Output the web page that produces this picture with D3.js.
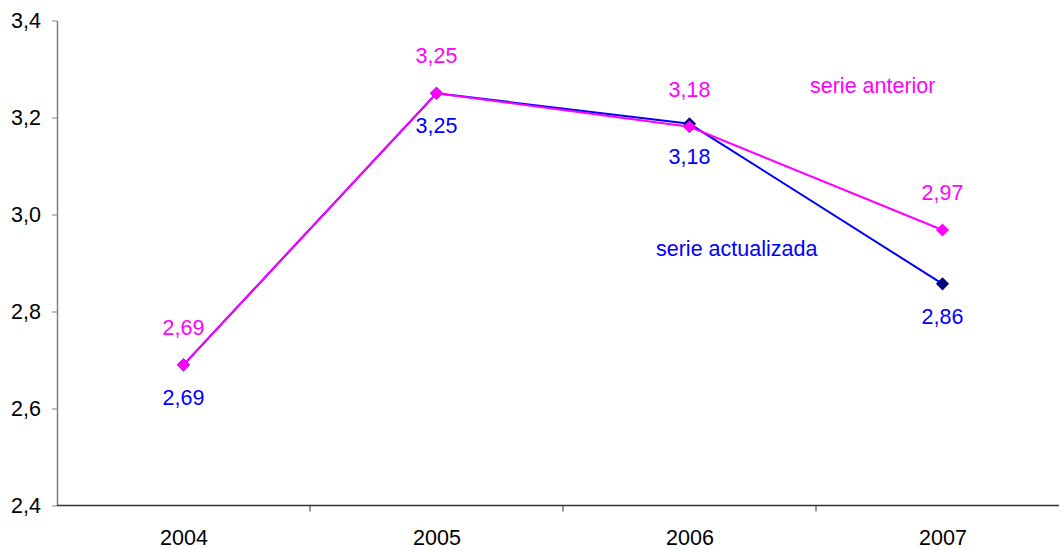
<!DOCTYPE html>
<html>
<head>
<meta charset="utf-8">
<script src="https://cdn.jsdelivr.net/npm/d3@7"></script>
<style>
  body { margin: 0; background: #fff; }
  text { font-family: "Liberation Sans", Arial, sans-serif; }
</style>
</head>
<body>
<script>
// datos
const years = ["2004", "2005", "2006", "2007"];
const serieActualizada = [2.69, 3.25, 3.187, 2.857];
const serieAnterior = [2.69, 3.25, 3.181, 2.968];
const etiquetasActualizada = ["2,69", "3,25", "3,18", "2,86"];
const etiquetasAnterior = ["2,69", "3,25", "3,18", "2,97"];
const yTicks = [2.4, 2.6, 2.8, 3.0, 3.2, 3.4];

const W = 1059, H = 549;
const mLeft = 57, mRight = 1069, mTop = 20.5, mBottom = 505.5;
const fs = 21.5;

var svg = d3.select("body")
        .append("svg")
        .attr("width", W)
        .attr("height", H)

const x = d3.scaleBand().domain(years).range([mLeft, mRight])
const y = d3.scaleLinear().domain([2.4, 3.4]).range([mBottom, mTop])
const cx = d => x(d) + x.bandwidth() / 2

const locale = d3.formatLocale({ decimal: ",", thousands: ".", grouping: [3], currency: ["", ""] })
const fmt = locale.format(".1f")

// eje Y
const yAxis = svg.append("g")
        .attr("transform", `translate(${mLeft},0)`)
        .call(d3.axisLeft(y).tickValues(yTicks).tickFormat(fmt).tickSize(5).tickSizeOuter(0).tickPadding(11))
yAxis.select(".domain").attr("stroke", "#808080").attr("stroke-width", 1.5)
yAxis.selectAll(".tick line").attr("stroke", "#808080")
yAxis.selectAll(".tick text").attr("font-size", fs).attr("fill", "#000")

// eje X
const xAxis = svg.append("g")
        .attr("transform", `translate(0,${mBottom})`)
xAxis.append("line")
        .attr("x1", mLeft).attr("x2", mRight)
        .attr("stroke", "#333").attr("stroke-width", 1.5)
xAxis.selectAll(".sep")
        .data(years.slice(1))
        .enter()
        .append("line")
                .attr("x1", d => x(d)).attr("x2", d => x(d))
                .attr("y1", 0).attr("y2", 6)
                .attr("stroke", "#333")
xAxis.selectAll(".lbl")
        .data(years)
        .enter()
        .append("text")
                .attr("x", d => cx(d) + 0.5)
                .attr("y", 39.5)
                .attr("text-anchor", "middle")
                .attr("font-size", fs)
                .text(d => d)

const line = d3.line().x((d, i) => cx(years[i])).y(d => y(d))
const diamond = d3.symbol().type(d3.symbolDiamond2).size(110)

function drawSeries(values, color, markerColor) {
        svg.append("path")
                .datum(values)
                .attr("d", line)
                .attr("fill", "none")
                .attr("stroke", color)
                .attr("stroke-width", 2)
        svg.selectAll(null)
                .data(values)
                .enter()
                .append("path")
                        .attr("d", diamond)
                        .attr("transform", (d, i) => `translate(${cx(years[i])},${y(d)})`)
                        .attr("fill", markerColor)
}

drawSeries(serieActualizada, "#0000ff", "#000080")
drawSeries(serieAnterior, "#ff00ff", "#ff00ff")

// etiquetas de valores
svg.selectAll(".labAct")
        .data(serieActualizada)
        .enter()
        .append("text")
                .attr("x", (d, i) => cx(years[i]))
                .attr("y", d => y(d) + 40)
                .attr("text-anchor", "middle")
                .attr("font-size", fs)
                .attr("fill", "#0000ff")
                .text((d, i) => etiquetasActualizada[i])

svg.selectAll(".labAnt")
        .data(serieAnterior)
        .enter()
        .append("text")
                .attr("x", (d, i) => cx(years[i]))
                .attr("y", d => y(d) - 30)
                .attr("text-anchor", "middle")
                .attr("font-size", fs)
                .attr("fill", "#ff00ff")
                .text((d, i) => etiquetasAnterior[i])

// nombres de las series
svg.append("text")
        .attr("x", 810).attr("y", 93)
        .attr("font-size", fs)
        .attr("fill", "#ff00ff")
        .text("serie anterior")

svg.append("text")
        .attr("x", 656).attr("y", 256)
        .attr("font-size", fs)
        .attr("fill", "#0000ff")
        .text("serie actualizada")
</script>
</body>
</html>
